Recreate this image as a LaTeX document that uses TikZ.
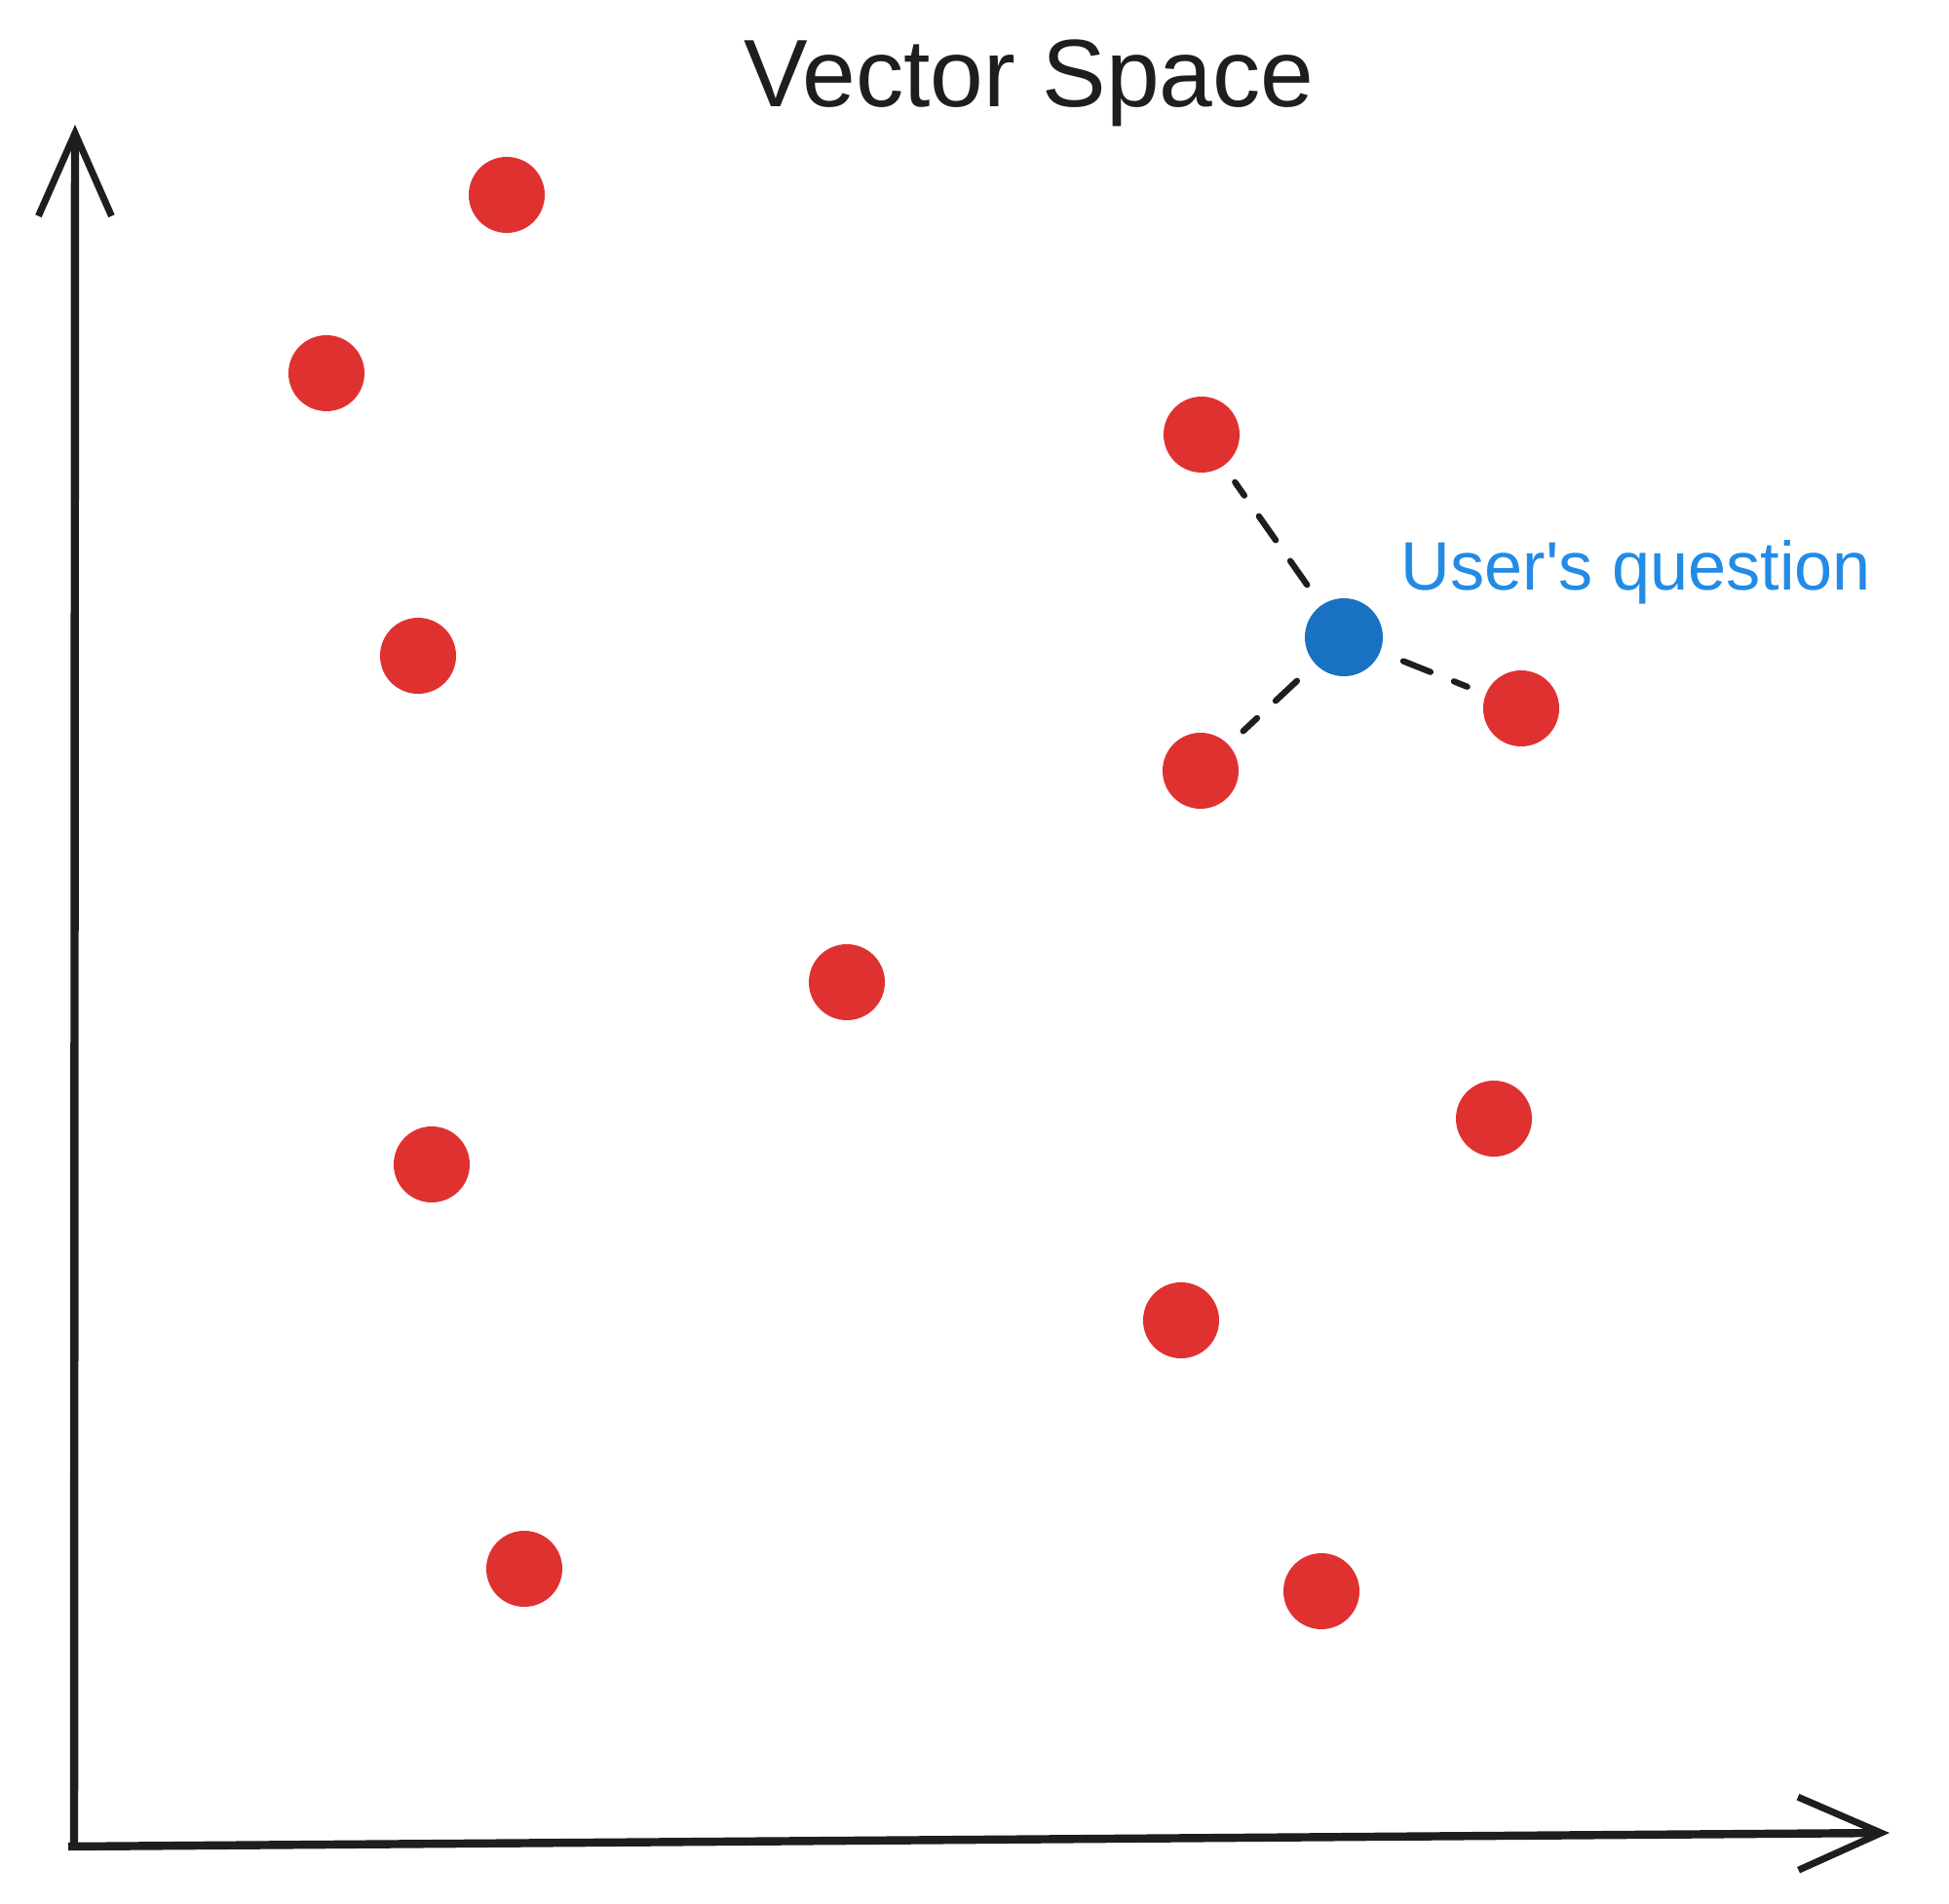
\documentclass[tikz,border=0pt]{standalone}
\usepackage{fontspec}
\setmainfont{Liberation Sans}
\newfontfamily\plainsans{Liberation Sans}
\usepackage{xcolor}
\usetikzlibrary{arrows.meta}

\definecolor{dotred}{HTML}{E03131}
\definecolor{dotblue}{HTML}{1971C2}
\definecolor{labelblue}{HTML}{228BE6}
\definecolor{ink}{HTML}{1E1E1E}

\begin{document}
\begin{tikzpicture}[
    vec/.style={circle, fill=dotred, minimum size=0.78cm, inner sep=0pt},
    query/.style={circle, fill=dotblue, minimum size=0.80cm, inner sep=0pt},
    axis/.style={draw=ink, line width=2.4pt, -{Straight Barb[length=0.85cm, width=0.75cm, line width=2pt]}},
    near/.style={draw=ink, line width=1.8pt, line cap=round, dash pattern=on 0.3cm off 0.26cm, shorten <=0.25cm, shorten >=0.2cm}
]
\useasboundingbox (0,0) rectangle (20,19.53);

% axes
\coordinate (origin) at (0.76,0.58);
\coordinate (ytip) at (0.77,18.25);
\coordinate (xtip) at (19.39,0.72);
\draw[axis] (origin) -- (ytip);
\draw[axis] (0.70,0.58) -- (xtip);

\node[font=\fontsize{28}{34}\selectfont, text=ink] (title) at (10.56,18.68) {Vector Space};

% stored vectors
\node[vec] (v1) at (5.20,17.53) {};
\node[vec] (v2) at (3.35,15.70) {};
\node[vec] (v3) at (12.33,15.07) {};
\node[vec] (v4) at (4.29,12.80) {};
\node[vec] (v5) at (12.32,11.62) {};
\node[vec] (v6) at (15.61,12.26) {};
\node[vec] (v7) at (8.69,9.45) {};
\node[vec] (v8) at (4.43,7.58) {};
\node[vec] (v9) at (15.33,8.05) {};
\node[vec] (v10) at (12.12,5.98) {};
\node[vec] (v11) at (5.38,3.43) {};
\node[vec] (v12) at (13.56,3.20) {};

% question
\node[query] (q) at (13.79,12.99) {};
\node[font=\plainsans\fontsize{20}{24}\selectfont, text=labelblue] (qlabel) at (16.79,13.66) {User's question};

\draw[near] (q) -- (v3);
\draw[near] (q) -- (v5);
\draw[near] (q) -- (v6);

\end{tikzpicture}
\end{document}
